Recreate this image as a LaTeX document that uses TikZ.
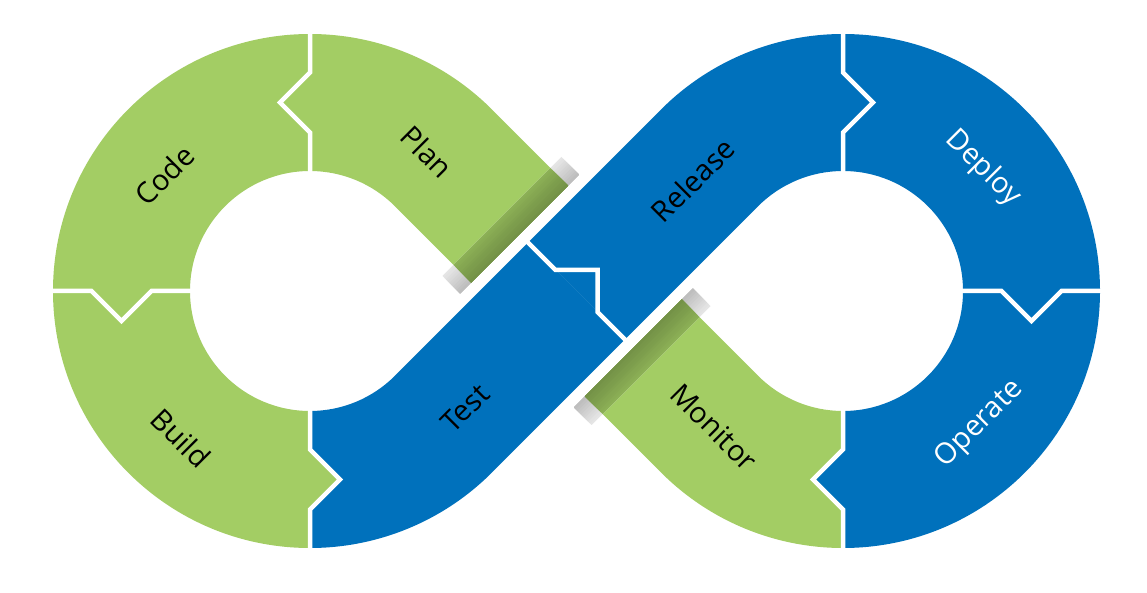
\documentclass[tikz,border=0pt]{standalone}
\usepackage{fontspec}
\setmainfont{Open Sans}
\usetikzlibrary{calc}
\definecolor{dgreen}{HTML}{A3CD64}
\definecolor{dblue}{HTML}{0071BC}
\begin{document}
\begin{tikzpicture}[x=1pt,y=1pt,
  lbl/.style={font=\fontsize{29}{34}\selectfont, inner sep=0pt},
  sep/.style={draw=white, line width=4.5pt, line join=miter},
]
\useasboundingbox (0,0) rectangle (1147,592);
\fill[white] (0,0) rectangle (1147,592);
\coordinate (C1) at (310,301);
\coordinate (C2) at (843,301);
\coordinate (X) at (576.5,301);
\coordinate (E1) at ($(X)+(135:80.5)$);
\coordinate (E2) at ($(X)+(-45:80.5)$);
\coordinate (Bul) at ($(X)+(135:68.5)$);
\coordinate (Blr) at ($(X)+(-45:68.5)$);
% green segments
\fill[dgreen] ($(C1)+(90:257)$) arc[start angle=90,end angle=180,radius=257] -- ($(C1)+(180:120)$) arc[start angle=180,end angle=90,radius=120] -- cycle;
\fill[dgreen] ($(C1)+(180:257)$) arc[start angle=180,end angle=270,radius=257] -- ($(C1)+(270:120)$) arc[start angle=270,end angle=180,radius=120] -- cycle;
\fill[dgreen] ($(C1)+(90:257)$) arc[start angle=90,end angle=45,radius=257] -- ($(E1)+(45:68.5)$) -- ($(E1)+(225:68.5)$) -- ($(C1)+(45:120)$) arc[start angle=45,end angle=90,radius=120] -- cycle;
\fill[dgreen] ($(C2)+(270:257)$) arc[start angle=270,end angle=225,radius=257] -- ($(E2)+(225:68.5)$) -- ($(E2)+(45:68.5)$) -- ($(C2)+(225:120)$) arc[start angle=225,end angle=270,radius=120] -- cycle;
% shadows at the cut ends
\foreach \ang/\pt in {-45/E1, 135/E2} {
  \begin{scope}[shift={(\pt)}, rotate=\ang]
    \foreach \i [evaluate=\i as \g using int(20+3.5*\i)] in {0,...,9}
      \fill[gray!\g] (-25+2.5*\i,-84) rectangle (0,84);
    \foreach \i [evaluate=\i as \g using int(86-1.6*\i)] in {0,...,9}
      \fill[dgreen!\g!black] (-25+2.5*\i,-68.5) rectangle (0,68.5);
  \end{scope}
}
% blue segments
\fill[dblue] ($(C1)+(270:257)$) arc[start angle=270,end angle=315,radius=257] -- (Blr) -- (Bul) -- ($(C1)+(315:120)$) arc[start angle=315,end angle=270,radius=120] -- cycle;
\fill[dblue] (Bul) -- (Blr) -- ($(C2)+(135:120)$) arc[start angle=135,end angle=90,radius=120] -- ($(C2)+(90:257)$) arc[start angle=90,end angle=135,radius=257] -- cycle;
\fill[dblue] ($(C2)+(90:257)$) arc[start angle=90,end angle=0,radius=257] -- ($(C2)+(0:120)$) arc[start angle=0,end angle=90,radius=120] -- cycle;
\fill[dblue] ($(C2)+(0:257)$) arc[start angle=0,end angle=-90,radius=257] -- ($(C2)+(-90:120)$) arc[start angle=-90,end angle=0,radius=120] -- cycle;
% tabs
\fill[dgreen] (308,144.5) -- (310,142.5) -- (340,112.5) -- (310,82.5) -- (308,80.5) -- cycle;
\fill[dblue] (845,144.5) -- (843,142.5) -- (813,112.5) -- (843,82.5) -- (845,80.5) -- cycle;
% separators
\draw[sep] (310,417) -- (310,459.5) -- (280,489.5) -- (310,519.5) -- (310,561);
\draw[sep] (194,301) -- (151.5,301) -- (121.5,271) -- (91.5,301) -- (49,301);
\draw[sep] (310,185) -- (310,142.5) -- (340,112.5) -- (310,82.5) -- (310,40);
\draw[sep] ($(X)+(135:72)$) -- ($(X)+(135:30)$) -- ($(X)+(45:30)$) -- ($(X)+(-45:30)$) -- ($(X)+(-45:72)$);
\draw[sep] (843,417) -- (843,459.5) -- (873,489.5) -- (843,519.5) -- (843,561);
\draw[sep] (959,301) -- (1001.5,301) -- (1031.5,271) -- (1061.5,301) -- (1104,301);
\draw[sep] (843,185) -- (843,142.5) -- (813,112.5) -- (843,82.5) -- (843,40);
% labels
\node[lbl, rotate=45] (tcode) at (164.5,416.5) {Code};
\node[lbl, rotate=-45] (tplan) at (427,440) {Plan};
\node[lbl, rotate=-45] (tbuild) at (181,154) {Build};
\node[lbl, rotate=45] (ttest) at (465,184) {Test};
\node[lbl, rotate=45] (trel) at (693,412) {Release};
\node[lbl, rotate=-45, text=white] (tdep) at (983,424) {Deploy};
\node[lbl, rotate=45, text=white] (toper) at (980,168) {Operate};
\node[lbl, rotate=-45] (tmon) at (714,165) {Monitor};
\end{tikzpicture}
\end{document}
